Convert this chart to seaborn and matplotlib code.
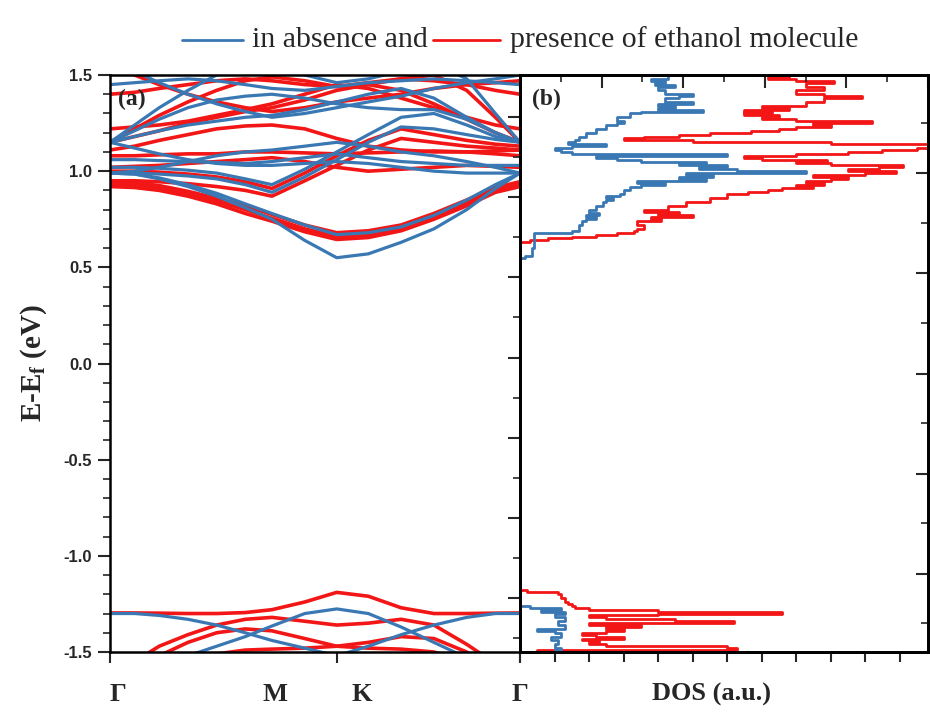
import numpy as np
import pandas as pd
import matplotlib
matplotlib.use("Agg")
import matplotlib.pyplot as plt
from matplotlib.lines import Line2D
from matplotlib.ticker import MultipleLocator, FixedLocator, NullFormatter
import seaborn as sns

sns.set_theme(style="white")
plt.rcParams["font.family"] = ["Liberation Serif", "DejaVu Serif"]
plt.rcParams["mathtext.fontset"] = "custom"
plt.rcParams["mathtext.rm"] = "Liberation Serif:bold"
plt.rcParams["mathtext.it"] = "Liberation Serif:bold"
plt.rcParams["mathtext.bf"] = "Liberation Serif:bold"

BLUE = "#3a78b4"
RED = "#f21616"

# ---------------- band structure data ----------------
kpts = [0.0, 0.06, 0.12, 0.19, 0.26, 0.33, 0.395, 0.475, 0.553, 0.63, 0.71, 0.79, 0.87, 0.94, 1.0]
k_tick_pos = [0.0, 0.553, 1.0]
k_labels = ["Γ", "M", "K", "Γ"]

blue_bands = {
    "B1": [0.99, 0.985, 0.96, 0.92, 0.87, 0.81, 0.75, 0.64, 0.55, 0.57, 0.63, 0.70, 0.80, 0.91, 0.99],
    "B2": [0.99, 0.985, 0.965, 0.93, 0.885, 0.83, 0.78, 0.72, 0.67, 0.68, 0.71, 0.77, 0.85, 0.93, 0.99],
    "B3": [0.99, 0.99, 0.985, 0.975, 0.96, 0.93, 0.89, 0.97, 1.06, 1.15, 1.23, 1.22, 1.19, 1.165, 1.15],
    "B4": [1.02, 1.02, 1.015, 1.005, 0.99, 0.96, 0.93, 1.01, 1.10, 1.19, 1.28, 1.30, 1.24, 1.18, 1.15],
    "B5": [1.15, 1.12, 1.09, 1.06, 1.04, 1.03, 1.03, 1.04, 1.05, 1.04, 1.02, 1.00, 0.99, 0.99, 0.99],
    "B6": [1.06, 1.06, 1.055, 1.05, 1.045, 1.04, 1.05, 1.07, 1.09, 1.07, 1.05, 1.04, 1.03, 1.03, 1.03],
    "B7": [1.15, 1.18, 1.21, 1.24, 1.26, 1.28, 1.29, 1.32, 1.36, 1.40, 1.43, 1.38, 1.28, 1.20, 1.15],
    "B8": [1.15, 1.21, 1.27, 1.33, 1.37, 1.39, 1.40, 1.38, 1.35, 1.33, 1.32, 1.32, 1.27, 1.20, 1.15],
    "B9": [1.15, 1.24, 1.33, 1.42, 1.50, 1.56, 1.55, 1.50, 1.46, 1.48, 1.52, 1.56, 1.48, 1.30, 1.15],
    "B10": [0.99, 1.00, 1.02, 1.05, 1.08, 1.10, 1.11, 1.13, 1.15, 1.13, 1.10, 1.08, 1.05, 1.02, 0.99],
    "B11": [1.60, 1.52, 1.46, 1.40, 1.35, 1.31, 1.28, 1.30, 1.33, 1.36, 1.39, 1.43, 1.46, 1.48, 1.50],
    "B12": [1.45, 1.46, 1.47, 1.48, 1.47, 1.45, 1.43, 1.42, 1.44, 1.46, 1.47, 1.48, 1.47, 1.46, 1.45],
    "Bv1": [-1.80, -1.72, -1.62, -1.52, -1.47, -1.42, -1.365, -1.30, -1.276, -1.30, -1.37, -1.45, -1.53, -1.62, -1.70],
    "Bv2": [-1.30, -1.30, -1.31, -1.33, -1.36, -1.40, -1.44, -1.48, -1.52, -1.56, -1.60, -1.65, -1.70, -1.75, -1.80],
    "Bv3": [-1.80, -1.76, -1.72, -1.68, -1.64, -1.60, -1.57, -1.55, -1.52, -1.47, -1.41, -1.36, -1.32, -1.30, -1.30],
}
red_bands = {
    "R1": [0.92, 0.915, 0.90, 0.87, 0.83, 0.78, 0.74, 0.685, 0.645, 0.655, 0.69, 0.75, 0.82, 0.89, 0.92],
    "R2": [0.93, 0.925, 0.91, 0.88, 0.845, 0.80, 0.755, 0.70, 0.66, 0.67, 0.70, 0.765, 0.835, 0.90, 0.93],
    "R3": [0.945, 0.94, 0.925, 0.895, 0.86, 0.82, 0.775, 0.72, 0.68, 0.69, 0.72, 0.78, 0.85, 0.915, 0.945],
    "R4": [0.95, 0.95, 0.945, 0.935, 0.92, 0.90, 0.87, 0.95, 1.03, 1.11, 1.17, 1.15, 1.13, 1.12, 1.11],
    "R5": [1.00, 1.00, 0.995, 0.985, 0.97, 0.945, 0.91, 0.99, 1.08, 1.16, 1.22, 1.19, 1.16, 1.14, 1.13],
    "R6": [1.08, 1.08, 1.085, 1.09, 1.09, 1.10, 1.10, 1.095, 1.09, 1.095, 1.10, 1.105, 1.10, 1.09, 1.08],
    "R7": [1.11, 1.13, 1.16, 1.19, 1.22, 1.235, 1.24, 1.22, 1.17, 1.13, 1.11, 1.10, 1.10, 1.105, 1.11],
    "R8": [1.02, 1.025, 1.03, 1.04, 1.05, 1.06, 1.07, 1.05, 1.02, 1.00, 1.01, 1.02, 1.03, 1.025, 1.02],
    "R9": [1.15, 1.18, 1.21, 1.25, 1.28, 1.31, 1.33, 1.37, 1.42, 1.45, 1.42, 1.35, 1.27, 1.20, 1.15],
    "R10": [1.15, 1.22, 1.29, 1.36, 1.42, 1.47, 1.49, 1.47, 1.44, 1.45, 1.48, 1.50, 1.42, 1.28, 1.15],
    "R11": [1.22, 1.23, 1.24, 1.26, 1.29, 1.32, 1.35, 1.40, 1.45, 1.43, 1.38, 1.33, 1.28, 1.24, 1.22],
    "R12": [1.40, 1.41, 1.43, 1.45, 1.47, 1.48, 1.47, 1.45, 1.44, 1.46, 1.48, 1.47, 1.45, 1.42, 1.40],
    "R13": [1.55, 1.50, 1.45, 1.40, 1.36, 1.33, 1.31, 1.33, 1.36, 1.38, 1.40, 1.43, 1.45, 1.46, 1.47],
    "Rv1": [-1.297, -1.297, -1.298, -1.30, -1.30, -1.295, -1.28, -1.24, -1.19, -1.21, -1.27, -1.30, -1.30, -1.298, -1.297],
    "Rv2": [-1.75, -1.55, -1.47, -1.41, -1.36, -1.33, -1.32, -1.34, -1.36, -1.35, -1.33, -1.36, -1.46, -1.56, -1.70],
    "Rv3": [-1.80, -1.62, -1.52, -1.45, -1.40, -1.38, -1.39, -1.43, -1.47, -1.45, -1.42, -1.43, -1.50, -1.62, -1.80],
    "Rv4": [-1.90, -1.75, -1.62, -1.55, -1.51, -1.49, -1.485, -1.48, -1.47, -1.48, -1.485, -1.50, -1.55, -1.65, -1.85],
}

# ---------------- DOS data ----------------
blue_cb_E = [0.50, 0.545, 0.55, 0.56, 0.60, 0.65, 0.67, 0.68, 0.69, 0.70, 0.72, 0.74, 0.75, 0.76,
             0.77, 0.78, 0.80, 0.82, 0.84, 0.85, 0.86, 0.87, 0.88, 0.90, 0.92, 0.93, 0.94, 0.95,
             0.96, 0.97, 0.98, 0.99, 1.00, 1.01, 1.02, 1.03, 1.04, 1.05, 1.06, 1.07, 1.08, 1.09,
             1.10, 1.11, 1.12, 1.13, 1.14, 1.15, 1.16, 1.18, 1.20, 1.22, 1.24, 1.25, 1.26, 1.28,
             1.30, 1.31, 1.32, 1.33, 1.34, 1.35, 1.36, 1.38, 1.39, 1.40, 1.42, 1.44, 1.45, 1.46,
             1.47, 1.48, 1.50]
blue_cb_dos = [0.0, 0.0, 0.15, 0.35, 0.4, 0.4, 0.4, 1.5, 1.7, 1.7, 1.8, 1.9, 2.2, 1.9,
               2.3, 2.0, 2.2, 2.4, 2.5, 2.7, 2.5, 2.9, 3.0, 3.2, 3.5, 4.2, 3.4, 5.4,
               4.6, 5.6, 4.8, 8.3, 6.3, 5.2, 6.0, 4.6, 5.4, 3.5, 2.8, 2.2, 6.0, 1.5,
               1.2, 1.0, 1.5, 2.5, 1.4, 1.6, 1.7, 1.9, 2.2, 2.5, 2.8, 3.0, 2.8, 3.2,
               3.5, 5.3, 4.0, 4.5, 4.0, 5.0, 4.2, 4.6, 5.0, 4.2, 4.0, 4.5, 3.9, 4.2,
               3.8, 4.3, 4.0]

red_cb_E = [0.50, 0.625, 0.63, 0.64, 0.65, 0.66, 0.67, 0.68, 0.69, 0.70, 0.72, 0.74, 0.75, 0.76,
            0.77, 0.78, 0.79, 0.80, 0.82, 0.84, 0.86, 0.88, 0.89, 0.90, 0.91, 0.92, 0.93, 0.94,
            0.95, 0.96, 0.97, 0.98, 0.99, 1.00, 1.01, 1.02, 1.03, 1.04, 1.05, 1.06, 1.07, 1.08,
            1.09, 1.10, 1.11, 1.12, 1.13, 1.14, 1.15, 1.16, 1.17, 1.18, 1.19, 1.20, 1.21, 1.22,
            1.23, 1.24, 1.25, 1.26, 1.27, 1.28, 1.29, 1.30, 1.31, 1.32, 1.33, 1.34, 1.36, 1.38,
            1.39, 1.40, 1.42, 1.44, 1.46, 1.47, 1.48, 1.49, 1.50]
red_cb_dos = [0.0, 0.0, 0.3, 0.8, 1.5, 2.2, 2.8, 3.3, 3.4, 3.6, 3.4, 4.1, 3.8, 5.0,
              4.0, 4.6, 3.6, 4.3, 4.8, 5.5, 6.0, 6.6, 7.2, 7.6, 8.5, 8.0, 8.8, 8.3,
              9.0, 9.5, 8.5, 10.0, 10.9, 9.5, 10.4, 11.1, 9.0, 8.0, 8.9, 7.0, 6.5, 8.0,
              9.5, 10.5, 11.5, 12.5, 12.5, 9.0, 5.0, 3.0, 3.6, 4.6, 5.5, 6.7, 7.5, 8.0,
              9.0, 8.5, 10.2, 8.0, 7.0, 7.5, 6.5, 7.3, 6.5, 7.8, 7.0, 8.3, 8.8, 9.9,
              8.8, 8.0, 8.8, 8.3, 9.1, 8.0, 7.2, 7.8, 7.0]

blue_vb_E = [-1.50, -1.49, -1.48, -1.46, -1.44, -1.42, -1.40, -1.39, -1.38, -1.36, -1.34,
             -1.32, -1.30, -1.29, -1.28, -1.27, -1.26]
blue_vb_dos = [1.0, 1.2, 1.0, 1.1, 0.9, 1.2, 1.0, 0.5, 1.3, 1.1, 1.3,
               1.0, 1.3, 0.6, 1.2, 0.3, 0.0]

red_vb_E = [-1.50, -1.49, -1.48, -1.47, -1.46, -1.45, -1.44, -1.43, -1.42, -1.41, -1.40,
            -1.39, -1.38, -1.37, -1.36, -1.35, -1.34, -1.33, -1.32, -1.31, -1.30, -1.29,
            -1.28, -1.27, -1.26, -1.25, -1.24, -1.22, -1.20, -1.19, -1.18]
red_vb_dos = [0.5, 6.3, 6.0, 2.5, 2.0, 2.3, 1.8, 3.0, 2.2, 1.8, 2.5,
              3.0, 2.5, 3.5, 2.0, 6.2, 4.5, 2.5, 2.0, 4.0, 7.6, 4.0,
              2.0, 1.6, 1.5, 1.4, 1.3, 1.2, 1.1, 0.2, 0.0]

# ---------------- build tables ----------------
def band_table(bands, system):
    rows = []
    for name, vals in bands.items():
        for k, e in zip(kpts, vals):
            rows.append({"k": k, "E": e, "band": name, "system": system})
    return pd.DataFrame(rows)

df_red = band_table(red_bands, "presence")
df_blue = band_table(blue_bands, "absence")

# ---------------- figure ----------------
W, H = 930, 721
fig = plt.figure(figsize=(W / 100, H / 100), dpi=100)
x0, x1, x2 = 110 / W, 520 / W, 928 / W
yb, yt = 1 - 652 / H, 1 - 75 / H
ax_a = fig.add_axes([x0, yb, x1 - x0, yt - yb])
ax_b = fig.add_axes([x1, yb, x2 - x1, yt - yb])

sns.lineplot(data=df_red, x="k", y="E", units="band", estimator=None, sort=False,
             color=RED, linewidth=2.6, ax=ax_a, legend=False)
sns.lineplot(data=df_blue, x="k", y="E", units="band", estimator=None, sort=False,
             color=BLUE, linewidth=2.3, ax=ax_a, legend=False)

ax_a.set_xlim(0, 1)
ax_a.set_ylim(-1.5, 1.5)
ax_a.set_xlabel("")
ax_a.set_ylabel("E-E$_\\mathrm{f}$ (eV)", fontsize=21, fontweight="bold",
                fontfamily="Liberation Serif", labelpad=10)
ax_a.yaxis.set_major_locator(MultipleLocator(0.5))
ax_a.yaxis.set_minor_locator(MultipleLocator(0.1))
ax_a.set_yticklabels([f"{v:.1f}" for v in ax_a.get_yticks()])
for lab in ax_a.get_yticklabels():
    lab.set_fontfamily("Liberation Sans")
    lab.set_fontweight("bold")
    lab.set_fontsize(12)
ax_a.tick_params(axis="y", which="major", direction="out", length=9, width=1.5, left=True, pad=4)
ax_a.tick_params(axis="y", which="minor", direction="out", length=5, width=1.2, left=True)
ax_a.xaxis.set_major_locator(FixedLocator(k_tick_pos))
ax_a.xaxis.set_major_formatter(NullFormatter())
ax_a.tick_params(axis="x", which="major", direction="out", length=8, width=1.5, bottom=True)

# k-point labels
lab_x = [0.02, 0.402, 0.615, 1.0]
for xx, t in zip(lab_x, k_labels):
    ax_a.text(xx, -0.073, t, transform=ax_a.get_xaxis_transform(), ha="center", va="center",
              fontsize=19, fontweight="bold", fontfamily="Liberation Serif")
ax_a.text(0.02, 0.958, "(a)", transform=ax_a.transAxes, fontsize=17, fontweight="bold",
          fontfamily="Liberation Serif", va="center", ha="left")

# ---------------- DOS panel ----------------
for xs, ys, col in ((red_cb_dos, red_cb_E, RED), (red_vb_dos, red_vb_E, RED),
                    (blue_cb_dos, blue_cb_E, BLUE), (blue_vb_dos, blue_vb_E, BLUE)):
    sns.lineplot(x=xs, y=ys, orient="y", estimator=None, color=col, linewidth=2.0,
                 drawstyle="steps-pre", ax=ax_b)
ax_b.set_xlim(0, 408 / 34.5)
ax_b.set_ylim(-1.5, 1.5)
ax_b.set_xlabel("")
ax_b.set_ylabel("")
ax_b.xaxis.set_major_locator(MultipleLocator(1))
ax_b.xaxis.set_major_formatter(NullFormatter())
ax_b.tick_params(axis="x", which="major", direction="out", length=7, width=1.5, bottom=True)
b_left_major = [1.281, 0.865, 0.448, 0.031, -0.385, -0.802, -1.219]
b_left_minor = [1.073, 0.656, 0.240, -0.177, -0.594, -1.010, -1.427]
ax_b.yaxis.set_major_locator(FixedLocator(b_left_major))
ax_b.yaxis.set_minor_locator(FixedLocator(b_left_minor))
ax_b.yaxis.set_major_formatter(NullFormatter())
ax_b.tick_params(axis="y", which="major", direction="out", length=9, width=1.5, left=True)
ax_b.tick_params(axis="y", which="minor", direction="out", length=5, width=1.2, left=True)
ax_b.text(0.03, 0.958, "(b)", transform=ax_b.transAxes, fontsize=17, fontweight="bold",
          fontfamily="Liberation Serif", va="center", ha="left")
ax_b.text(0.47, -0.073, "DOS (a.u.)", transform=ax_b.transAxes, ha="center", va="center",
          fontsize=19, fontweight="bold", fontfamily="Liberation Serif")

# top ticks of DOS panel
tx = ax_b.twiny()
tx.set_xlim(0, 10)
tx.xaxis.set_major_locator(MultipleLocator(2))
tx.xaxis.set_minor_locator(MultipleLocator(1))
tx.xaxis.set_major_formatter(NullFormatter())
tx.tick_params(axis="x", which="major", direction="in", length=9, width=1.5, top=True)
tx.tick_params(axis="x", which="minor", direction="in", length=5, width=1.2, top=True)
# right ticks of DOS panel
ty = ax_b.twinx()
ty.set_ylim(-1.5, 1.5)
ty.yaxis.set_major_locator(FixedLocator([0.99, 0.469, -0.052, -0.573, -1.094]))
ty.yaxis.set_minor_locator(FixedLocator([1.25, 0.73, 0.21, -0.31, -0.83, -1.35]))
ty.yaxis.set_major_formatter(NullFormatter())
ty.tick_params(axis="y", which="major", direction="in", length=9, width=1.5, right=True)
ty.tick_params(axis="y", which="minor", direction="in", length=5, width=1.2, right=True)

for ax in (ax_a, ax_b, tx, ty):
    for s in ax.spines.values():
        s.set_linewidth(1.8)
        s.set_color("black")
    ax.grid(False)

# ---------------- legend on top ----------------
ly = 1 - 40 / H
fig.add_artist(Line2D([182 / W, 243 / W], [ly, ly], color=BLUE, linewidth=2.0))
fig.text(252 / W, ly, "in absence and", fontsize=21.5, va="center", ha="left",
         fontfamily="Liberation Serif")
fig.add_artist(Line2D([433 / W, 500 / W], [ly, ly], color=RED, linewidth=2.0))
fig.text(510 / W, ly, "presence of ethanol molecule", fontsize=21.5, va="center", ha="left",
         fontfamily="Liberation Serif")

fig.savefig("out.png", dpi=100)
